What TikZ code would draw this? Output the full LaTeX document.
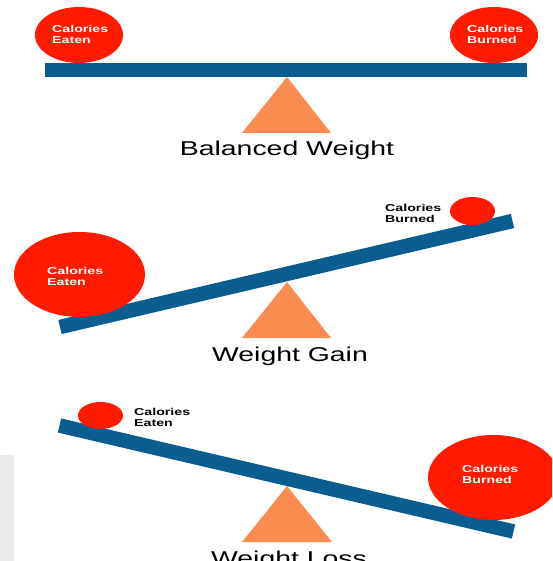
\documentclass[tikz,border=0pt]{standalone}
\usepackage{fontspec}
\usetikzlibrary{shapes.geometric}
\newfontfamily\wideSans[FakeStretch=1.42]{Liberation Sans}
\definecolor{calred}{HTML}{FF1A00}
\definecolor{beam}{HTML}{0A5D91}
\definecolor{pivot}{HTML}{FA8C50}
\definecolor{edgegray}{HTML}{EAEAEA}

\begin{document}
\begin{tikzpicture}[x=1pt, y=-1pt,
  ball/.style 2 args={ellipse, fill=calred, inner sep=0pt, minimum width=#1, minimum height=#2},
  lbl/.style={anchor=north west, inner sep=0pt, align=left, text=#1, font=\wideSans\bfseries\fontsize{10}{11}\selectfont},
  caption/.style={anchor=base, inner sep=0pt, font=\wideSans\fontsize{20}{24}\selectfont},
  bar/.style={line width=14.5pt, beam},
  fulcrum/.style={fill=pivot}
]
  \useasboundingbox (0,0) rectangle (552,561);
  \clip (0,0) rectangle (552,561);
  \fill[edgegray] (0,455) rectangle (14,561);

  % Balanced
  \coordinate (b1l) at (45,70);
  \coordinate (b1r) at (527,70);
  \draw[bar] (b1l) -- (b1r);
  \fill[fulcrum] (287,77) -- (242,133) -- (331,133) -- cycle;
  \node[ball={88}{56}] (eat1) at (79,35) {};
  \node[ball={88}{56}] (burn1) at (494,35) {};
  \node[lbl=white] (eat1t) at (52,25) {Calories\\Eaten};
  \node[lbl=white] (burn1t) at (467,25) {Calories\\Burned};
  \node[caption] (cap1) at (287,156) {Balanced Weight};

  % Gain
  \coordinate (b2l) at (60,327);
  \coordinate (b2r) at (512.5,221);
  \draw[bar] (b2l) -- (b2r);
  \fill[fulcrum] (287,282) -- (242,338) -- (331,338) -- cycle;
  \node[ball={131}{85}] (eat2) at (79.5,274.5) {};
  \node[ball={45}{28}] (burn2) at (472.5,211) {};
  \node[lbl=white] (eat2t) at (47,267) {Calories\\Eaten};
  \node[lbl=black] (burn2t) at (385,204) {Calories\\Burned};
  \node[caption] (cap2) at (290,361) {Weight Gain};

  % Loss
  \coordinate (b3l) at (59.5,425.5);
  \coordinate (b3r) at (513.5,531.5);
  \draw[bar] (b3l) -- (b3r);
  \fill[fulcrum] (287,486) -- (242,542) -- (332,542) -- cycle;
  \node[ball={45}{27}] (eat3) at (100.5,415.5) {};
  \node[ball={131}{85}] (burn3) at (493.5,477.5) {};
  \node[lbl=black] (eat3t) at (134,408) {Calories\\Eaten};
  \node[lbl=white] (burn3t) at (462,465) {Calories\\Burned};
  \node[caption] (cap3) at (289,565) {Weight Loss};
\end{tikzpicture}
\end{document}
